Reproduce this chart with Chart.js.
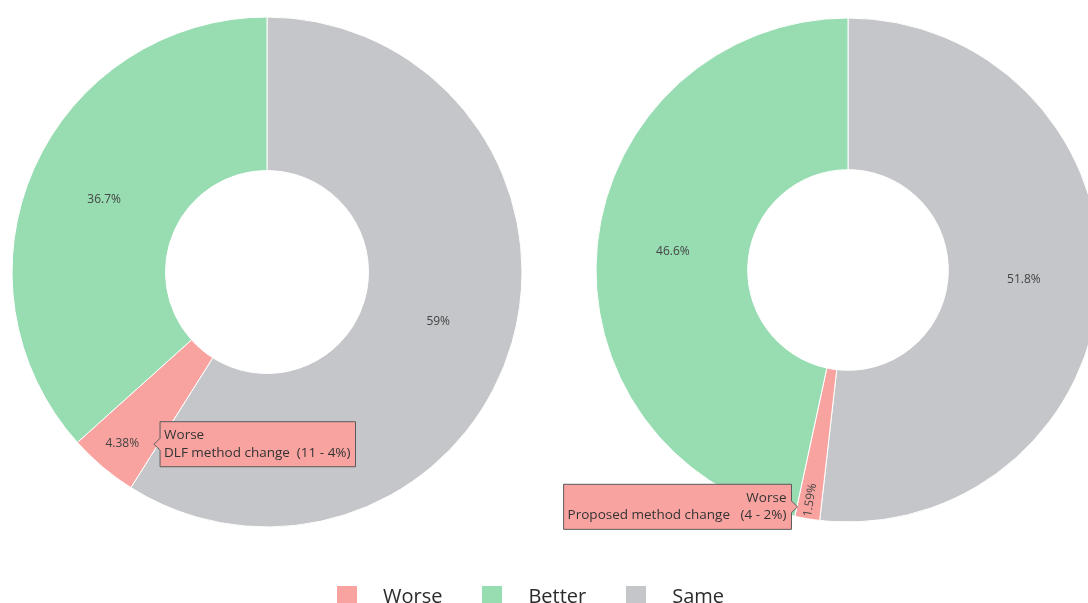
<!DOCTYPE html>
<html>
<head>
<meta charset="utf-8">
<script src="https://cdn.jsdelivr.net/npm/chart.js@4.4.0/dist/chart.umd.min.js"></script>
<style>
  html, body {
    margin: 0;
    padding: 0;
    width: 1088px;
    height: 603px;
    overflow: hidden;
    background: #ffffff;
    font-family: "Open Sans", sans-serif;
  }
  .box {
    position: absolute;
    top: 0;
    width: 544px;
    height: 603px;
  }
  #boxLeft { left: 0; }
  #boxRight { left: 544px; }
  #legend {
    position: absolute;
    left: 337px;
    top: 582px;
    display: flex;
    align-items: center;
    font-size: 20px;
    color: #2b2b2b;
    white-space: nowrap;
  }
  .item { display: flex; align-items: center; margin-right: 40px; }
  .swatch { width: 20px; height: 20px; margin-right: 26px; }
</style>
</head>
<body>
<div class="box" id="boxLeft"><canvas id="chartLeft"></canvas></div>
<div class="box" id="boxRight"><canvas id="chartRight"></canvas></div>
<div id="legend"></div>
<script>
// Catégories dans l'ordre de tracé (depuis midi, sens horaire)
var categories = ["Same", "Worse", "Better"];
var legendOrder = ["Worse", "Better", "Same"];
var colors = ["#C4C6C9", "#F9A3A0", "#98DCB2"];

// Nombre de cas par méthode
var dlfValues = [148, 11, 92];
var proposedValues = [130, 4, 117];
var seriesNames = ["DLF method change", "Proposed method change"];
var fontFamily = "'Open Sans', sans-serif";

function percentOf(data, i) {
  var total = data.reduce(function (a, b) { return a + b; }, 0);
  return data[i] / total * 100;
}

function formatPct(v) {
  return parseFloat(v.toPrecision(3)) + "%";
}

// Étiquettes de pourcentage dans chaque tranche
var sliceLabels = {
  id: "sliceLabels",
  afterDatasetsDraw: function (chart) {
    var ctx = chart.ctx;
    var meta = chart.getDatasetMeta(0);
    var data = chart.data.datasets[0].data;
    ctx.save();
    ctx.font = "12px " + fontFamily;
    ctx.fillStyle = "#444444";
    ctx.textAlign = "center";
    ctx.textBaseline = "middle";
    meta.data.forEach(function (arc, i) {
      var p = arc.getProps(["x", "y", "startAngle", "endAngle", "innerRadius", "outerRadius"], true);
      var mid = (p.startAngle + p.endAngle) / 2;
      var span = p.endAngle - p.startAngle;
      var text = formatPct(percentOf(data, i));
      var w = ctx.measureText(text).width;
      var r = (p.innerRadius + p.outerRadius) / 2;
      var rot = 0;
      if (span < 0.12) {
        // tranche très fine : texte tourné le long du rayon
        r = p.outerRadius - w / 2 - 2;
        rot = mid - Math.PI;
      } else if (span < 0.35) {
        r = p.outerRadius * 0.88;
      }
      ctx.save();
      ctx.translate(p.x + Math.cos(mid) * r, p.y + Math.sin(mid) * r);
      ctx.rotate(rot);
      ctx.fillText(text, 0, 0);
      ctx.restore();
    });
    ctx.restore();
  },
};

// Le tooltip se place à la position "souris" fournie
Chart.Tooltip.positioners.mouse = function (items, eventPosition) {
  return { x: eventPosition.x, y: eventPosition.y };
};

function makeChart(canvasId, values, seriesName, radius, padding, side, gap) {
  var ctx = document.getElementById(canvasId).getContext("2d");
  return new Chart(ctx, {
    type: "doughnut",
    data: {
      labels: categories,
      datasets: [
        {
          label: seriesName,
          data: values,
          backgroundColor: colors,
          hoverBackgroundColor: colors,
          borderColor: "#ffffff",
          hoverBorderColor: "#ffffff",
          borderWidth: 1,
          hoverBorderWidth: 1,
          hoverOffset: 0,
          radius: radius,
          cutout: "39.8%",
        },
      ],
    },
    plugins: [sliceLabels],
    options: {
      responsive: true,
      maintainAspectRatio: false,
      animation: false,
      events: [],
      layout: { padding: padding },
      plugins: {
        legend: { display: false },
        tooltip: {
          enabled: true,
          position: "mouse",
          xAlign: side,
          yAlign: "center",
          backgroundColor: colors[1],
          borderColor: "#5a5a5a",
          borderWidth: 1,
          titleColor: "#333333",
          bodyColor: "#333333",
          titleFont: { family: fontFamily, size: 13.5, weight: "normal", lineHeight: 1.15 },
          bodyFont: { family: fontFamily, size: 13.5, lineHeight: 1.15 },
          titleAlign: side === "left" ? "left" : "right",
          titleMarginBottom: 2,
          padding: { top: 6, bottom: 6, left: 4, right: 5 },
          cornerRadius: 0,
          caretSize: 6,
          caretPadding: 0,
          displayColors: false,
          animation: false,
          callbacks: {
            title: function (items) {
              return items[0].label;
            },
            label: function (item) {
              var pct = Math.round(percentOf(item.dataset.data, item.dataIndex));
              return item.dataset.label + gap + "(" + item.parsed + " - " + pct + "%)";
            },
          },
        },
      },
    },
  });
}

function showTooltip(chart, index, dx, dy) {
  var arc = chart.getDatasetMeta(0).data[index];
  var tp = arc.tooltipPosition(true);
  chart.tooltip.setActiveElements([{ datasetIndex: 0, index: index }], { x: tp.x + dx, y: tp.y + dy });
  chart.draw();
}

var chartLeft = makeChart("chartLeft", dlfValues, seriesNames[0], 255,
  { left: 0, right: 10, top: 0, bottom: 59 }, "left", "  ");
var chartRight = makeChart("chartRight", proposedValues, seriesNames[1], 252,
  { left: 64, right: 0, top: 0, bottom: 63 }, "right", "   ");

showTooltip(chartLeft, 1, 2, 36);
showTooltip(chartRight, 1, -22, 63);

// Légende commune
var legendEl = document.getElementById("legend");
legendOrder.forEach(function (name) {
  var i = categories.indexOf(name);
  var item = document.createElement("div");
  item.className = "item";
  item.innerHTML = '<span class="swatch" style="background:' + colors[i] + '"></span><span>' + name + "</span>";
  legendEl.appendChild(item);
});
</script>
</body>
</html>
